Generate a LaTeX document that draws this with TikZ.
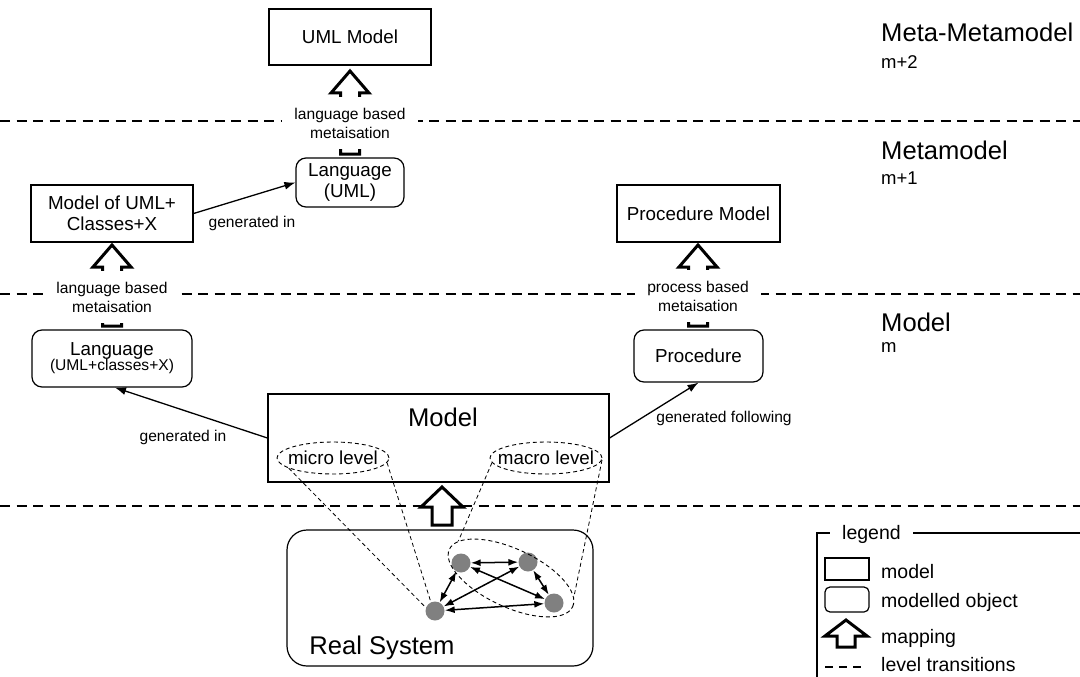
\documentclass[tikz,border=0pt]{standalone}
\usepackage{fontspec}
\setmainfont{Liberation Sans}
\usetikzlibrary{arrows.meta,shapes.geometric}
\newcommand\fbig{\fontsize{25.6}{30}\selectfont}
\newcommand\fmed{\fontsize{18.8}{21.5}\selectfont}
\newcommand\fsml{\fontsize{15.6}{19}\selectfont}
\newcommand\fleg{\fontsize{19.5}{23}\selectfont}
\newcommand\flev{\fontsize{18.5}{22}\selectfont}
% tip x, tip y, head length, head half width, shaft half width, bottom y
\newcommand\mymaparrow[6]{%
  \draw[mapping] (#1,#2) -- (#1+#4,#2+#3) -- (#1+#5,#2+#3) -- (#1+#5,#6)
    -- (#1-#5,#6) -- (#1-#5,#2+#3) -- (#1-#4,#2+#3) -- cycle;}
\tikzset{
  box/.style={draw, line width=1.2pt, inner sep=0pt, align=center, fill=white},
  rbox/.style={box, rounded corners=10pt},
  level/.style={line width=1.5pt, dash pattern=on 10pt off 6.5pt},
  mapping/.style={draw, line width=3pt, fill=white, line join=miter},
  conn/.style={line width=1.3pt, -{Latex[length=11pt,width=8pt]}},
  dbl/.style={line width=1.5pt, {Latex[length=10pt,width=7pt]}-{Latex[length=10pt,width=7pt]}},
  tang/.style={line width=0.8pt, dash pattern=on 4pt off 3pt},
  lvlell/.style={draw, ellipse, line width=0.9pt, dash pattern=on 4pt off 3pt, inner sep=0pt},
  lbl/.style={fill=white, inner xsep=12pt, inner ysep=0pt, minimum height=52pt, align=center, font=\fsml},
  obj/.style={circle, fill=gray, minimum size=19pt, inner sep=0pt},
  plain/.style={inner sep=0pt},
}
\begin{document}
\begin{tikzpicture}[x=1pt,y=-1pt]
\useasboundingbox[fill=white] (0,0) rectangle (1080,677);

% level transitions
\coordinate (l1a) at (0,121); \coordinate (l1b) at (1080,121);
\coordinate (l2a) at (0,294); \coordinate (l2b) at (1080,294);
\coordinate (l3a) at (0,506); \coordinate (l3b) at (1080,506);
\draw[level] (l1a) -- (l1b);
\draw[level] (l2a) -- (l2b);
\draw[level] (l3a) -- (l3b);

% level names
\node[plain, anchor=west, font=\fbig] (mm) at (881,32) {Meta-Metamodel};
\node[plain, anchor=west, font=\flev] (mm2) at (881,62) {m+2};
\node[plain, anchor=west, font=\fbig] (meta) at (881,150) {Metamodel};
\node[plain, anchor=west, font=\flev] (meta1) at (881,178) {m+1};
\node[plain, anchor=west, font=\fbig] (mod) at (881,322) {Model};
\node[plain, anchor=west, font=\flev] (mod0) at (881,348) {m};

% boxes
\node[box, minimum width=162, minimum height=56, font=\fmed] (uml) at (350,37) {UML Model};
\node[rbox, minimum width=108, minimum height=49, font=\fmed] (luml) at (350,182.5) {Language\\(UML)};
\node[box, minimum width=162, minimum height=57, font=\fmed] (muml) at (112,213.5) {Model of UML+\\Classes+X};
\node[box, minimum width=163, minimum height=57, font=\fmed] (pmod) at (698.5,213.5) {Procedure Model};
\node[rbox, minimum width=160, minimum height=57] (lang) at (112,358.5) {{\fmed Language}\\[-1pt]{\fsml (UML+classes+X)}};
\node[rbox, minimum width=129, minimum height=52, font=\fmed] (proc) at (698.5,356) {Procedure};

% mapping arrows (metaisation)
\mymaparrow{350}{71}{22}{19}{9.5}{154}
\mymaparrow{112}{245}{22}{19}{9.5}{326}
\mymaparrow{698}{245}{22}{19}{9.5}{326}
\node[lbl] (t1) at (350,123) {language based\\metaisation};
\node[lbl] (t2) at (112,297) {language based\\metaisation};
\node[lbl] (t3) at (698,296) {process based\\metaisation};

% model
\node[box, minimum width=341, minimum height=88] (model) at (438.5,438) {};
\node[plain, font=\fbig] (modeltxt) at (443,417) {Model};
\node[lvlell, minimum width=112, minimum height=32] (micro) at (333,458) {};
\node[plain, font=\fmed] (microtxt) at (333,458) {micro level};
\node[lvlell, minimum width=112, minimum height=32] (macro) at (546,458) {};
\node[plain, font=\fmed] (macrotxt) at (546,458) {macro level};

% connectors
\draw[conn] (muml.east) -- (luml.west);
\node[plain, font=\fsml] (g1) at (252,223) {generated in};
\draw[conn] (model.west) -- ([xshift=3pt]lang.south);
\node[plain, font=\fsml] (g2) at (183,437) {generated in};
\draw[conn] (model.east) -- (proc.south);
\node[plain, font=\fsml] (g3) at (724,418) {generated following};

% real system
\node[box, rounded corners=20pt, minimum width=306, minimum height=136] (real) at (440,598) {};
\node[plain, font=\fbig] (realtxt) at (382,648) {Real System};
\mymaparrow{442}{487}{20}{21}{10}{525}

\node[obj] (A) at (461,563) {};
\node[obj] (B) at (528,562) {};
\node[obj] (C) at (554,603) {};
\node[obj] (D) at (435,611) {};
\draw[dbl] (A) -- (B);
\draw[dbl] (A) -- (D);
\draw[dbl] (B) -- (D);
\draw[dbl] (A) -- (C);
\draw[dbl] (B) -- (C);
\draw[dbl] (D) -- (C);
\node[lvlell, minimum width=136, minimum height=58, rotate=-25] (grp) at (511,578) {};

\draw[tang] (micro.193) -- (D.160);
\draw[tang] (micro.355) -- (D.115);
\draw[tang] (macro.185) -- (grp.170);
\draw[tang] (macro.358) -- (grp.8);

% legend
\coordinate (fr1) at (1080,533);
\coordinate (fr2) at (817,533);
\coordinate (fr3) at (817,677);
\draw[line width=1.2pt] (fr1) -- (fr2) -- (fr3);
\node[fill=white, inner xsep=12pt, inner ysep=1pt, font=\fleg] (legt) at (871.5,534) {legend};
\node[box, minimum width=44, minimum height=22] (lg1) at (847,569) {};
\node[plain, anchor=west, font=\fleg] (lg1t) at (881,572) {model};
\node[box, rounded corners=5pt, minimum width=44, minimum height=25] (lg2) at (847,599.5) {};
\node[plain, anchor=west, font=\fleg] (lg2t) at (881,602) {modelled object};
\mymaparrow{846}{620}{16}{21}{9}{647}
\node[plain, anchor=west, font=\fleg] (lg3t) at (881,638) {mapping};
\coordinate (lg4a) at (825,667); \coordinate (lg4b) at (862,667);
\draw[line width=1.5pt, dash pattern=on 8pt off 6pt] (lg4a) -- (lg4b);
\node[plain, anchor=west, font=\fleg] (lg4t) at (881,665) {level transitions};
\end{tikzpicture}
\end{document}
